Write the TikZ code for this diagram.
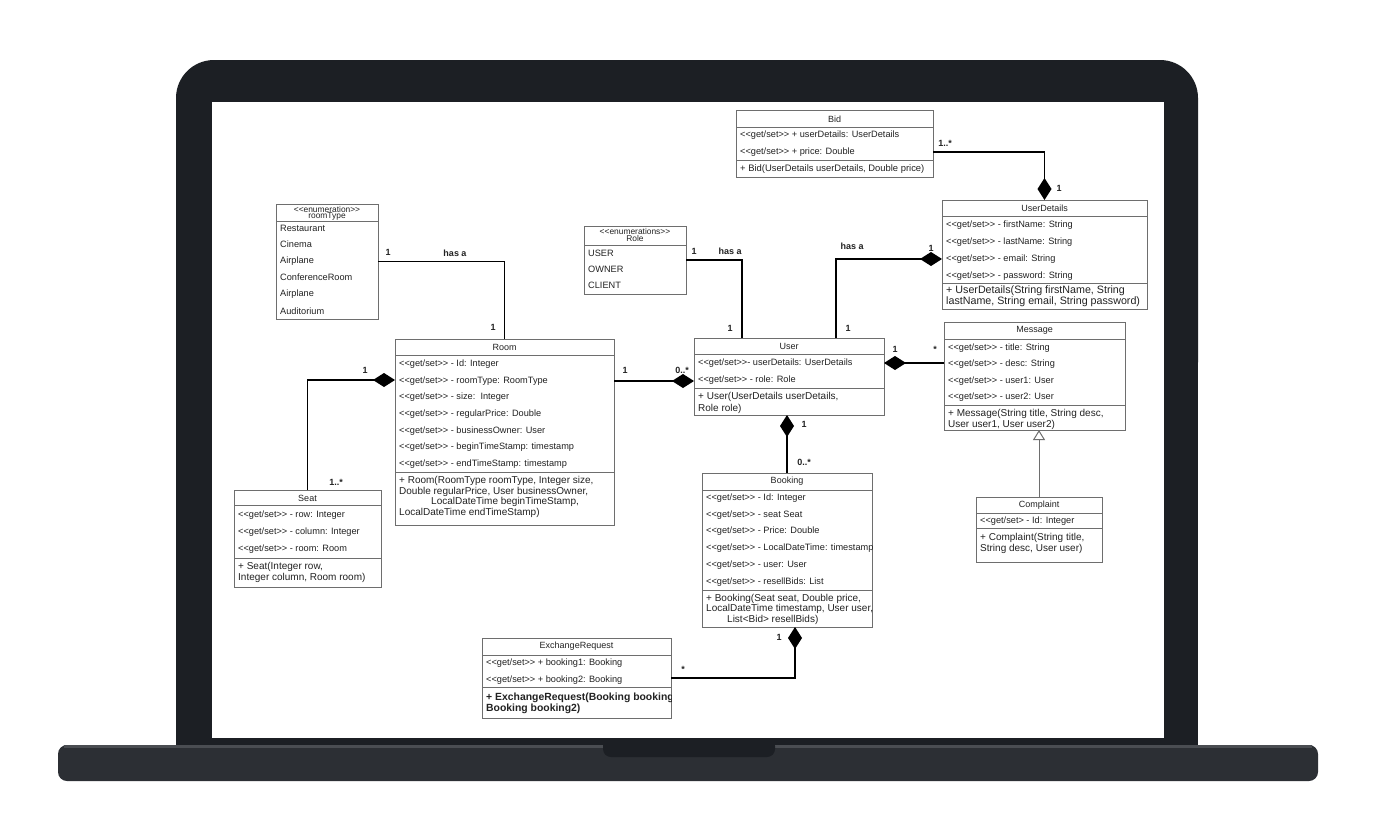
\documentclass[tikz,border=0pt]{standalone}
\usepackage{fontspec}
\newfontfamily\umlfont{Liberation Sans}
\usetikzlibrary{arrows.meta}
\definecolor{bodyc}{HTML}{1C1F24}
\definecolor{basec}{HTML}{2C2F34}
\definecolor{baseedge}{HTML}{4A4D52}
\definecolor{boxc}{HTML}{6E6E6E}
\definecolor{txt}{HTML}{222222}
\tikzset{
  ubox/.style={draw=boxc, line width=0.9pt, fill=white, inner sep=0pt, outer sep=0pt, anchor=north west},
  sepl/.style={draw=boxc, line width=0.9pt},
  ttl/.style={font=\umlfont\fontsize{9}{10}\selectfont, text=txt, inner sep=0pt},
  etl/.style={font=\umlfont\fontsize{8.4}{8.4}\selectfont, text=txt, inner sep=0pt, align=center},
  attr/.style={font=\umlfont\fontsize{9.2}{10}\selectfont, text=txt, anchor=west, inner sep=0pt},
  meth/.style={font=\umlfont\fontsize{10}{11}\selectfont, text=txt, anchor=west, inner sep=0pt},
  mult/.style={font=\umlfont\bfseries\fontsize{9}{10}\selectfont, text=txt, inner sep=0pt},
  conn/.style={draw=black, line width=1.8pt},
  comp/.style={conn, -{Diamond[length=22pt,width=14pt,fill=black]}},
  gen/.style={draw=boxc, line width=1pt, -{Triangle[open,length=10pt,width=12pt,fill=white]}},
}
\begin{document}
\begin{tikzpicture}[x=1pt,y=-1pt]
\useasboundingbox (0,0) rectangle (1378,838);
\fill[white] (0,0) rectangle (1378,838);

% laptop body, screen and base
\fill[bodyc, rounded corners=38pt] (176,60) rectangle (1198,400);
\fill[bodyc] (176,200) rectangle (1198,748);
\fill[white] (212,102) rectangle (1164,738);
\fill[basec, rounded corners=9pt] (58,745) rectangle (1318,781);
\fill[baseedge] (64,745) rectangle (1312,747.5);
\fill[bodyc, rounded corners=8pt] (603,738) rectangle (775,757);

% ---------- Bid ----------
\node[ubox, minimum width=197, minimum height=67] (bid) at (736,110) {};
\node[ttl] (bid-t) at (834.5,119) {Bid};
\draw[sepl] (736,127) -- (933,127);
\node[attr] (bid-a1) at (740,135) {<<get/set>> + userDetails: UserDetails};
\node[attr] (bid-a2) at (740,152) {<<get/set>> + price: Double};
\draw[sepl] (736,160) -- (933,160);
\node[meth, font=\umlfont\fontsize{9.4}{11}\selectfont] (bid-m1) at (740,169) {+ Bid(UserDetails userDetails, Double price)};

% ---------- UserDetails ----------
\node[ubox, minimum width=205, minimum height=109] (userdetails) at (942,200) {};
\node[ttl] (ud-t) at (1044.5,208) {UserDetails};
\draw[sepl] (942,216) -- (1147,216);
\node[attr] (ud-a1) at (946,225) {<<get/set>> - firstName: String};
\node[attr] (ud-a2) at (946,242) {<<get/set>> - lastName: String};
\node[attr] (ud-a3) at (946,259) {<<get/set>> - email: String};
\node[attr] (ud-a4) at (946,276) {<<get/set>> - password: String};
\draw[sepl] (942,283) -- (1147,283);
\node[meth, font=\umlfont\fontsize{10.7}{12}\selectfont] (ud-m1) at (946,291) {+ UserDetails(String firstName, String};
\node[meth, font=\umlfont\fontsize{10.7}{12}\selectfont] (ud-m2) at (946,301.5) {lastName, String email, String password)};

% ---------- roomType ----------
\node[ubox, minimum width=102, minimum height=115] (roomtype) at (276,204) {};
\node[etl] (rt-s) at (327,209) {<<enumeration>>};
\node[etl] (rt-t) at (327,216.5) {roomType};
\draw[sepl] (276,221.5) -- (378,221.5);
\node[attr] (rt-1) at (280,228) {Restaurant};
\node[attr] (rt-2) at (280,244) {Cinema};
\node[attr] (rt-3) at (280,261) {Airplane};
\node[attr] (rt-4) at (280,277) {ConferenceRoom};
\node[attr] (rt-5) at (280,294) {Airplane};
\node[attr] (rt-6) at (280,311) {Auditorium};

% ---------- Role ----------
\node[ubox, minimum width=102, minimum height=68] (role) at (584,226) {};
\node[etl] (ro-s) at (635,231) {<<enumerations>>};
\node[etl] (ro-t) at (635,238.5) {Role};
\draw[sepl] (584,245) -- (686,245);
\node[attr] (ro-1) at (588,253) {USER};
\node[attr] (ro-2) at (588,269) {OWNER};
\node[attr] (ro-3) at (588,285) {CLIENT};

% ---------- User ----------
\node[ubox, minimum width=190, minimum height=77] (user) at (694,338) {};
\node[ttl] (us-t) at (789,346) {User};
\draw[sepl] (694,354) -- (884,354);
\node[attr] (us-a1) at (698,363) {<<get/set>>- userDetails: UserDetails};
\node[attr] (us-a2) at (698,380) {<<get/set>> - role: Role};
\draw[sepl] (694,388) -- (884,388);
\node[meth] (us-m1) at (698,397) {+ User(UserDetails userDetails,};
\node[meth] (us-m2) at (698,408.5) {Role role)};

% ---------- Message ----------
\node[ubox, minimum width=181, minimum height=108] (message) at (944,322) {};
\node[ttl] (me-t) at (1034.5,330) {Message};
\draw[sepl] (944,339) -- (1125,339);
\node[attr] (me-a1) at (948,348) {<<get/set>> - title: String};
\node[attr] (me-a2) at (948,364) {<<get/set>> - desc: String};
\node[attr] (me-a3) at (948,381) {<<get/set>> - user1: User};
\node[attr] (me-a4) at (948,397) {<<get/set>> - user2: User};
\draw[sepl] (944,405) -- (1125,405);
\node[meth] (me-m1) at (948,414) {+ Message(String title, String desc,};
\node[meth] (me-m2) at (948,425) {User user1, User user2)};

% ---------- Complaint ----------
\node[ubox, minimum width=126, minimum height=65] (complaint) at (976,497) {};
\node[ttl] (co-t) at (1039,505) {Complaint};
\draw[sepl] (976,513) -- (1102,513);
\node[attr] (co-a1) at (980,521) {<<get/set> - Id: Integer};
\draw[sepl] (976,528) -- (1102,528);
\node[meth] (co-m1) at (980,537.5) {+ Complaint(String title,};
\node[meth] (co-m2) at (980,549) {String desc, User user)};

% ---------- Room ----------
\node[ubox, minimum width=219, minimum height=186] (room) at (395,339) {};
\node[ttl] (rm-t) at (504.5,347) {Room};
\draw[sepl] (395,355) -- (614,355);
\node[attr] (rm-a1) at (399,364) {<<get/set>> - Id: Integer};
\node[attr] (rm-a2) at (399,381) {<<get/set>> - roomType: RoomType};
\node[attr] (rm-a3) at (399,397) {<<get/set>> - size:\ \ Integer};
\node[attr] (rm-a4) at (399,414) {<<get/set>> - regularPrice: Double};
\node[attr] (rm-a5) at (399,431) {<<get/set>> - businessOwner: User};
\node[attr] (rm-a6) at (399,447) {<<get/set>> - beginTimeStamp: timestamp};
\node[attr] (rm-a7) at (399,464) {<<get/set>> - endTimeStamp: timestamp};
\draw[sepl] (395,472) -- (614,472);
\node[meth] (rm-m1) at (399,481) {+ Room(RoomType roomType, Integer size,};
\node[meth] (rm-m2) at (399,491.5) {Double regularPrice, User businessOwner,};
\node[meth] (rm-m3) at (431,502) {LocalDateTime beginTimeStamp,};
\node[meth] (rm-m4) at (399,512.5) {LocalDateTime endTimeStamp)};

% ---------- Seat ----------
\node[ubox, minimum width=147, minimum height=97] (seat) at (234,490) {};
\node[ttl] (se-t) at (307.5,498) {Seat};
\draw[sepl] (234,505) -- (381,505);
\node[attr] (se-a1) at (238,515) {<<get/set>> - row: Integer};
\node[attr] (se-a2) at (238,532) {<<get/set>> - column: Integer};
\node[attr] (se-a3) at (238,549) {<<get/set>> - room: Room};
\draw[sepl] (234,558) -- (381,558);
\node[meth] (se-m1) at (238,567) {+ Seat(Integer row,};
\node[meth] (se-m2) at (238,578) {Integer column, Room room)};

% ---------- Booking ----------
\node[ubox, minimum width=170, minimum height=154] (booking) at (702,473) {};
\begin{scope}
\clip (booking.north west) rectangle (booking.south east);
\node[ttl] (bo-t) at (787,481) {Booking};
\node[attr] (bo-a1) at (706,498) {<<get/set>> - Id: Integer};
\node[attr] (bo-a2) at (706,515) {<<get/set>> - seat Seat};
\node[attr] (bo-a3) at (706,531) {<<get/set>> - Price: Double};
\node[attr] (bo-a4) at (706,548) {<<get/set>> - LocalDateTime: timestamp};
\node[attr] (bo-a5) at (706,565) {<<get/set>> - user: User};
\node[attr] (bo-a6) at (706,582) {<<get/set>> - resellBids: List};
\node[meth] (bo-m1) at (706,598.5) {+ Booking(Seat seat, Double price,};
\node[meth] (bo-m2) at (706,609) {LocalDateTime timestamp, User user,};
\node[meth] (bo-m3) at (727,619.5) {List<Bid> resellBids)};
\end{scope}
\draw[sepl] (702,490) -- (872,490);
\draw[sepl] (702,590) -- (872,590);

% ---------- ExchangeRequest ----------
\node[ubox, minimum width=189, minimum height=80] (exchange) at (482,638) {};
\begin{scope}
\clip (exchange.north west) rectangle (exchange.south east);
\node[ttl] (ex-t) at (576.5,646) {ExchangeRequest};
\node[attr] (ex-a1) at (486,663) {<<get/set>> + booking1: Booking};
\node[attr] (ex-a2) at (486,680) {<<get/set>> + booking2: Booking};
\node[meth, font=\umlfont\bfseries\fontsize{10.4}{11}\selectfont] (ex-m1) at (486,697.5) {+ ExchangeRequest(Booking booking1,};
\node[meth, font=\umlfont\bfseries\fontsize{10.4}{11}\selectfont] (ex-m2) at (486,709) {Booking booking2)};
\end{scope}
\draw[sepl] (482,655) -- (671,655);
\draw[sepl] (482,687) -- (671,687);

% ---------- connectors ----------
\coordinate (bidport) at ([yshift=-42pt]bid.north east);
\draw[comp] (bidport) -| (userdetails.north);
\node[mult] (l-bid1) at (945,143) {1..*};
\node[mult] (l-bid2) at (1059,188) {1};

\draw[conn] (roomtype.east) -| (room.north);
\node[mult] (l-rt1) at (388,252) {1};
\node[mult] (l-rt2) at (455,253) {has a};
\node[mult] (l-rt3) at (493,327) {1};

\coordinate (roleport) at ([xshift=48pt]user.north west);
\draw[conn] (role.east) -| (roleport);
\node[mult] (l-ro1) at (694,251) {1};
\node[mult] (l-ro2) at (730,251) {has a};
\node[mult] (l-ro3) at (730,328) {1};

\coordinate (userup) at ([xshift=142pt]user.north west);
\coordinate (udport) at ([yshift=-59pt]userdetails.north west);
\draw[comp] (userup) |- (udport);
\node[mult] (l-ud1) at (852,246) {has a};
\node[mult] (l-ud2) at (931,248) {1};
\node[mult] (l-ud3) at (848,328) {1};

\coordinate (roomport) at ([yshift=-42pt]room.north east);
\draw[comp] (roomport) -- (roomport -| user.west);
\node[mult] (l-rm1) at (625,370) {1};
\node[mult] (l-rm2) at (682,370) {0..*};

\coordinate (seatport) at ([yshift=-41pt]room.north west);
\draw[comp] (seat.north) |- (seatport);
\node[mult] (l-se1) at (365,370) {1};
\node[mult] (l-se2) at (336,482) {1..*};

\coordinate (msgport) at ([yshift=-41pt]message.north west);
\draw[comp] (msgport) -- (msgport -| user.east);
\node[mult] (l-me1) at (895,349) {1};
\node[mult] (l-me2) at (935,349) {*};

\draw[comp] (booking.north) -- (booking.north |- user.south);
\node[mult] (l-bo1) at (804,424) {1};
\node[mult] (l-bo2) at (804,462) {0..*};

\coordinate (bookport) at ([xshift=8pt]booking.south);
\draw[comp] (exchange.east) -| (bookport);
\node[mult] (l-ex1) at (779,637) {1};
\node[mult] (l-ex2) at (683,669) {*};

\draw[gen] (complaint.north) -- (complaint.north |- message.south);
\end{tikzpicture}
\end{document}
